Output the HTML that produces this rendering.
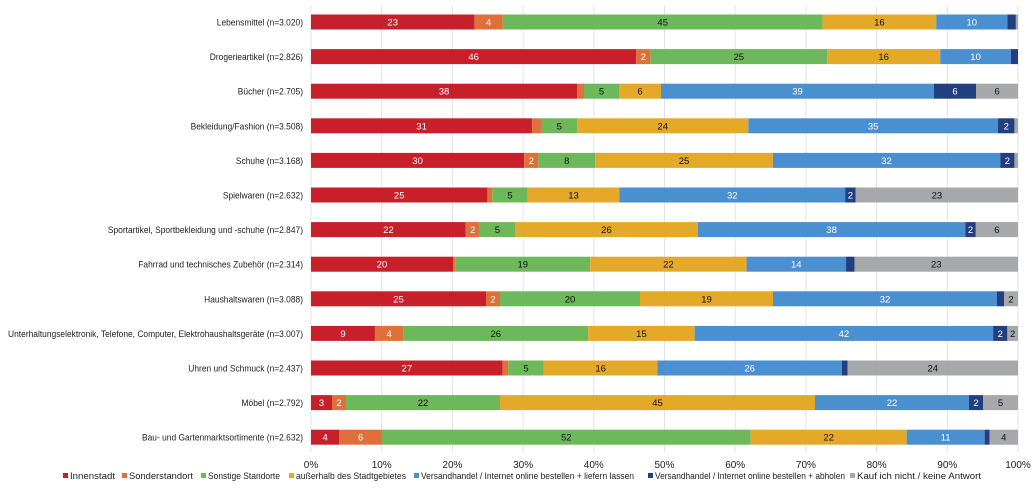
<!DOCTYPE html>
<html><head><meta charset="utf-8">
<style>
body{margin:0;background:#fff;font-family:"Liberation Sans",sans-serif;}
svg text{font-family:"Liberation Sans",sans-serif;}
</style></head>
<body>
<svg id="chart" width="1034" height="485" xmlns="http://www.w3.org/2000/svg"></svg>
<script>
const categories=["Lebensmittel (n=3.020)","Drogerieartikel (n=2.826)","Bücher (n=2.705)","Bekleidung/Fashion (n=3.508)","Schuhe (n=3.168)","Spielwaren (n=2.632)","Sportartikel, Sportbekleidung und -schuhe (n=2.847)","Fahrrad und technisches Zubehör (n=2.314)","Haushaltswaren (n=3.088)","Unterhaltungselektronik, Telefone, Computer, Elektrohaushaltsgeräte (n=3.007)","Uhren und Schmuck (n=2.437)","Möbel (n=2.792)","Bau- und  Gartenmarktsortimente (n=2.632)"];
const seriesNames=["Innenstadt","Sonderstandort","Sonstige Standorte","außerhalb des Stadtgebietes","Versandhandel / Internet online bestellen + liefern lassen","Versandhandel / Internet online bestellen + abholen","Kauf ich nicht / keine Antwort"];
const innenstadt=[23,46,38,31,30,25,22,20,25,9,27,3,4];
const sonderstandort=[4,2,1,1.3,2,0.7,2,0.3,2,4,0.8,2,6];
const sonstige=[45,25,5,5,8,5,5,19,20,26,5,22,52];
const ausserhalb=[16,16,6,24,25,13,26,22,19,15,16,45,22];
const liefern=[10,10,39,35,32,32,38,14,32,42,26,22,11];
const abholen=[1.2,1,6,2.3,2,1.5,1.5,1.2,1,2,0.8,2,0.7];
const keine=[0.3,0,6,0.5,0.5,23,6,23,2,1.5,24,5,4];
const ticks=["0%","10%","20%","30%","40%","50%","60%","70%","80%","90%","100%"];
const series=[innenstadt,sonderstandort,sonstige,ausserhalb,liefern,abholen,keine];
const colors=["#c8202a","#e0703a","#6cb85a","#e5a92a","#4a8fd0","#223f7f","#a6a8ab"];
const txtCol=["#fff","#fff","#111","#111","#fff","#fff","#111"];
const x0=311,x1=1018,yTop=22,yStep=34.6,barH=15;
const xs=p=>x0+(x1-x0)*p/100;
const ys=i=>yTop+i*yStep;
const svg=document.getElementById('chart');
const NS="http://www.w3.org/2000/svg";
function mk(t,a){const e=document.createElementNS(NS,t);for(const k in a)e.setAttribute(k,a[k]);svg.appendChild(e);return e;}
ticks.forEach((t,i)=>{
  const x=xs(i*10);
  const l=mk('line',{x1:x,x2:x,y1:5,y2:452,stroke:'#e3e3e3','stroke-width':1});
  
  
  const tx=mk('text',{x:x,y:468,'font-size':10,'text-anchor':'middle',fill:'#222'});
  tx.textContent=t;
  
  
});
categories.forEach((c,i)=>{
  const y=ys(i);
  const tx=mk('text',{x:0,y:0,'font-size':9.5,'text-anchor':'end',fill:'#222',transform:`translate(303,${y+3.5}) scale(0.885,1)`});
  tx.textContent=c;
  
  
  let tot=0;series.forEach(s=>tot+=s[i]);
  let acc=0;
  series.forEach((s,k)=>{
    const v=s[i];if(v<=0)return;
    const a=xs(acc/tot*100),b=xs((acc+v)/tot*100);acc+=v;
    const r=mk('rect',{x:a,y:y-barH/2,width:b-a,height:barH,fill:colors[k]});
    
    
    if(v>=1.5){
      const t=mk('text',{x:(a+b)/2,y:y+3.5,'font-size':9.5,'text-anchor':'middle',fill:txtCol[k]});
      t.textContent=Math.round(v);
      
      
    }
  });
});
const legX=[63,122,201,289,414,648,850];
const legW=[45,64,72,110,213,190,124];
seriesNames.forEach((n,k)=>{
  const r=mk('rect',{x:legX[k],y:473,width:5,height:5,fill:colors[k]});
  
  
  const t=mk('text',{x:legX[k]+7,y:479,'font-size':9.5,fill:'#222',textLength:legW[k],lengthAdjust:'spacingAndGlyphs'});
  t.textContent=n;
  
  
});
</script>
</body></html>
